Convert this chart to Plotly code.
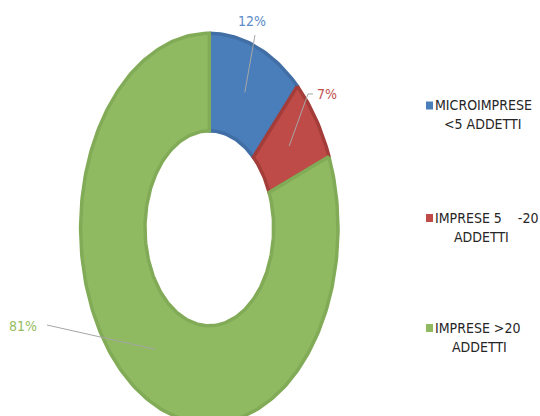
import numpy as np
import plotly.graph_objects as go

# data
categories = ["MICROIMPRESE <5 ADDETTI", "IMPRESE 5 -20 ADDETTI", "IMPRESE >20 ADDETTI"]
values = [12, 7, 81]
pct_labels = ["12%", "7%", "81%"]
legend_first = ["MICROIMPRESE", "IMPRESE 5\u00a0\u00a0\u00a0\u00a0-20", "IMPRESE &gt;20"]
legend_second = ["&lt;5 ADDETTI", "ADDETTI", "ADDETTI"]

fill_colors = ["#4A7EBB", "#BE4B48", "#8FBA62"]
edge_colors = ["#406EA5", "#A43D3A", "#82AB57"]
text_colors = ["#5B8BC8", "#C0504D", "#95BC5E"]

FONT = "DejaVu Sans Condensed, sans-serif"
W, H = 540, 416
# donut centre and radii in pixels (the chart is squeezed horizontally)
CX, CY, RX, RY = 209.3, 228.3, 128.7, 195.0
HOLE = 0.5

# label text spots and leader start points, in donut units
label_pos = [(0.332, 1.063), (0.915, 0.690), (-1.444, -0.501)]
leader_start = [[(0.355, 0.991)], [(0.806, 0.689), (0.767, 0.689)], [(-1.261, -0.496)]]

fig = go.Figure()

total = sum(values)
start = 0.0
for i, v in enumerate(values):
    a0 = start / total * 2 * np.pi
    a1 = (start + v) / total * 2 * np.pi
    n = max(int(v * 3), 8)
    t = np.linspace(a0, a1, n)
    xs = np.concatenate([np.sin(t), HOLE * np.sin(t[::-1])])
    ys = np.concatenate([np.cos(t), HOLE * np.cos(t[::-1])])
    fig.add_trace(go.Scatter(
        x=np.append(xs, xs[0]), y=np.append(ys, ys[0]),
        mode="lines", fill="toself", fillcolor=fill_colors[i],
        line=dict(color=edge_colors[i], width=3.5),
        name=categories[i], hoverinfo="skip", showlegend=False))

    # leader line to the middle of the ring
    mid = (a0 + a1) / 2
    px_, py_ = 0.75 * np.sin(mid), 0.75 * np.cos(mid)
    pts = leader_start[i] + [(px_, py_)]
    fig.add_trace(go.Scatter(
        x=[p[0] for p in pts], y=[p[1] for p in pts], mode="lines",
        line=dict(color="#A6A6A6", width=1), hoverinfo="skip", showlegend=False))

    fig.add_annotation(x=label_pos[i][0], y=label_pos[i][1], xref="x", yref="y",
                       text=pct_labels[i], showarrow=False,
                       font=dict(family=FONT, size=14, color=text_colors[i]))
    start += v

# legend built by hand (pixel positions)
first_y = [105.5, 218, 328]
second_y = [124.3, 237, 346.7]
second_x = [482, 481.5, 479]
for i in range(3):
    fig.add_shape(type="rect", xref="paper", yref="paper",
                  x0=426 / W, x1=433 / W,
                  y0=1 - (first_y[i] + 4) / H, y1=1 - (first_y[i] - 4) / H,
                  fillcolor=fill_colors[i], line=dict(width=0))
    fig.add_annotation(x=433 / W, y=1 - first_y[i] / H, xref="paper", yref="paper",
                       xanchor="left", yanchor="middle",
                       text=legend_first[i], showarrow=False,
                       font=dict(family=FONT, size=14, color="#262626"))
    fig.add_annotation(x=second_x[i] / W, y=1 - second_y[i] / H, xref="paper", yref="paper",
                       xanchor="center", yanchor="middle",
                       text=legend_second[i], showarrow=False,
                       font=dict(family=FONT, size=14, color="#262626"))

fig.update_xaxes(range=[-CX / RX, (W - CX) / RX], visible=False, fixedrange=True)
fig.update_yaxes(range=[(CY - H) / RY, CY / RY], visible=False, fixedrange=True)
fig.update_layout(
    width=W, height=H,
    margin=dict(l=0, r=0, t=0, b=0, pad=0),
    paper_bgcolor="white", plot_bgcolor="white",
    showlegend=False,
)

fig.write_html("out.html", config={"displayModeBar": False},
               post_script="document.body.style.margin='0';")
